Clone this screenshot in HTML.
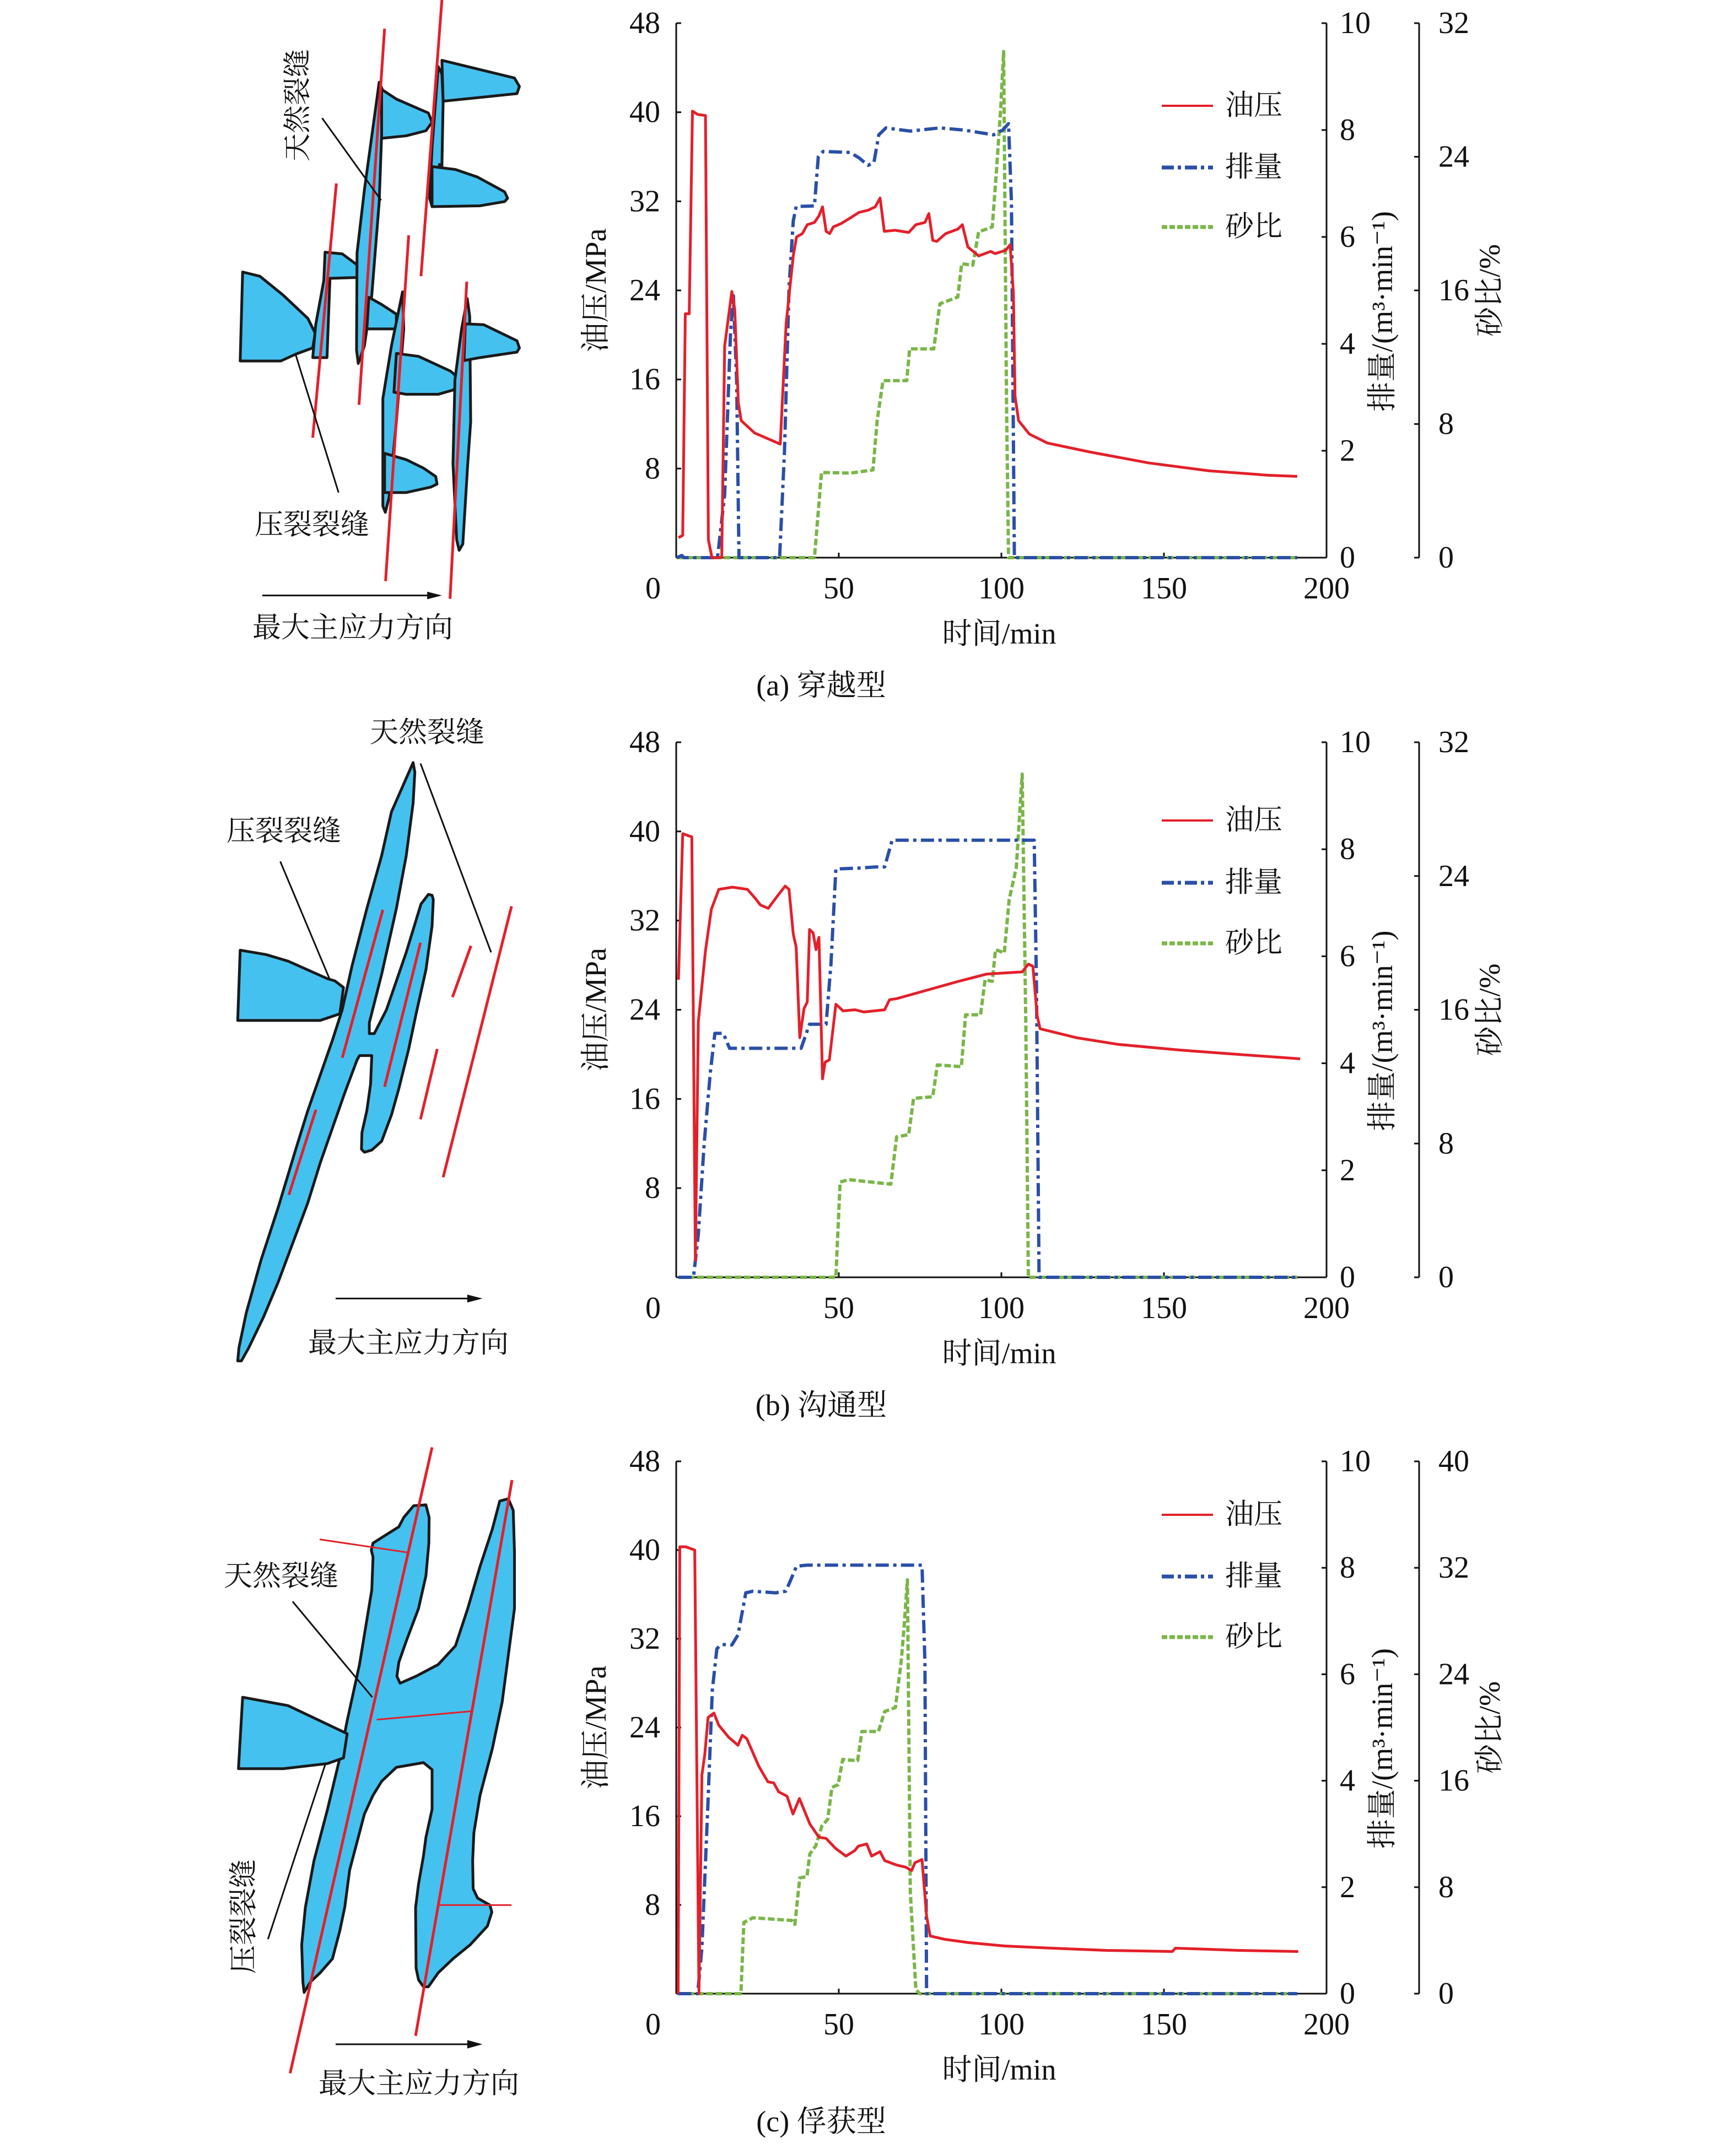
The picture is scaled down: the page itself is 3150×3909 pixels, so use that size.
<!DOCTYPE html>
<html><head><meta charset="utf-8">
<style>
html,body{margin:0;padding:0;background:#fff;}
svg{display:block;}
text{font-family:"Liberation Serif","Noto Serif CJK SC",serif;fill:#111;}
</style></head>
<body>
<svg id="fig" xmlns="http://www.w3.org/2000/svg" width="3150" height="3909" viewBox="0 0 3150 3909">
<rect width="3150" height="3909" fill="#fff"/>

<!-- Diagram A -->
<g>
<g transform="translate(380,0) scale(0.4464,0.7653)" fill="#45c1f0" stroke="#1a1a1a" stroke-width="5" stroke-linejoin="round">
<path vector-effect="non-scaling-stroke" d="M135,645 L205,655 L300,700 L400,755 L430,790 L420,825 L350,840 L290,856 L125,856 Z"/>
<path vector-effect="non-scaling-stroke" d="M470,598 L540,602 L600,628 L600,658 L490,660 L478,848 L420,848 L432,770 L465,665 Z"/>
<path vector-effect="non-scaling-stroke" d="M690,195 L705,215 L700,320 L690,480 L660,700 L630,820 L605,862 L598,830 L600,600 L630,450 Z"/>
<path vector-effect="non-scaling-stroke" d="M700,212 L760,235 L890,268 L905,290 L880,310 L800,322 L700,328 Z"/>
<path vector-effect="non-scaling-stroke" d="M648,705 L700,722 L760,745 L760,780 L640,780 Z"/>
<path vector-effect="non-scaling-stroke" d="M930,158 L945,175 L950,240 L945,395 L935,390 L905,490 L895,470 L905,350 Z"/>
<path vector-effect="non-scaling-stroke" d="M945,143 L1240,185 L1260,205 L1250,222 L1200,225 L950,240 Z"/>
<path vector-effect="non-scaling-stroke" d="M905,395 L1000,402 L1090,420 L1200,455 L1212,470 L1200,478 L1100,488 L905,490 Z"/>
<path vector-effect="non-scaling-stroke" d="M785,692 L790,780 L760,1000 L730,1180 L715,1215 L705,1200 L705,945 L740,820 Z"/>
<path vector-effect="non-scaling-stroke" d="M760,838 L850,845 L980,880 L1010,895 L1010,915 L990,925 L930,935 L800,935 L750,930 Z"/>
<path vector-effect="non-scaling-stroke" d="M712,1075 L800,1090 L870,1110 L920,1130 L925,1148 L900,1155 L800,1168 L712,1168 Z"/>
<path vector-effect="non-scaling-stroke" d="M1048,708 L1058,750 L1062,1000 L1050,1100 L1030,1290 L1015,1305 L1005,1280 L990,1100 L998,900 L1025,780 Z"/>
<path vector-effect="non-scaling-stroke" d="M1040,768 L1115,770 L1250,808 L1260,825 L1250,835 L1100,848 L1035,855 Z"/>
<g stroke="#e3202a" stroke-width="5" fill="none">
<line vector-effect="non-scaling-stroke" x1="712" y1="68" x2="608" y2="960"/>
<line vector-effect="non-scaling-stroke" x1="945" y1="0" x2="860" y2="655"/>
<line vector-effect="non-scaling-stroke" x1="516" y1="435" x2="420" y2="1038"/>
<line vector-effect="non-scaling-stroke" x1="810" y1="558" x2="716" y2="1378"/>
<line vector-effect="non-scaling-stroke" x1="1046" y1="668" x2="978" y2="1420"/>
</g>
<g stroke="#111" stroke-width="3" fill="none">
<line vector-effect="non-scaling-stroke" x1="458" y1="280" x2="698" y2="475"/>
<line vector-effect="non-scaling-stroke" x1="350" y1="840" x2="525" y2="1168"/>
<line vector-effect="non-scaling-stroke" x1="215" y1="1412" x2="900" y2="1412"/>
</g>
<path vector-effect="non-scaling-stroke" d="M885,1403 L945,1412 L885,1421 Z" fill="#111" stroke="none"/>
</g>
<text x="0" y="0" font-size="51" text-anchor="middle" dominant-baseline="central" transform="translate(541,191) rotate(-90)">天然裂缝</text>
<text x="566" y="953" font-size="52" text-anchor="middle" dominant-baseline="central">压裂裂缝</text>
<text x="640" y="1140" font-size="52" text-anchor="middle" dominant-baseline="central">最大主应力方向</text>
</g>

<!-- Diagram B -->
<g>
<g transform="translate(380,1250) scale(0.4464,0.7972)" fill="#45c1f0" stroke="#1a1a1a" stroke-width="5" stroke-linejoin="round">
<path vector-effect="non-scaling-stroke" d="M828,168 L835,190 L828,260 L800,380 L760,500 L700,650 L650,760 L650,785 L670,785 L720,730 L800,600 L860,490 L890,468 L905,470 L910,480 L905,540 L880,640 L840,740 L810,820 L770,910 L740,970 L700,1030 L660,1050 L630,1055 L618,1048 L620,1010 L640,960 L655,900 L660,835 L610,835 L600,845 L550,920 L500,1000 L450,1080 L400,1170 L340,1260 L280,1350 L220,1430 L160,1500 L130,1530 L115,1530 L120,1500 L150,1420 L210,1300 L280,1180 L350,1050 L400,960 L450,880 L500,800 L540,730 L580,630 L640,500 L700,380 L740,280 Z"/>
<path vector-effect="non-scaling-stroke" d="M125,595 L230,605 L320,620 L480,660 L510,665 L545,680 L530,740 L450,755 L115,755 Z"/>
<g stroke="#e3202a" stroke-width="5" fill="none">
<line vector-effect="non-scaling-stroke" x1="705" y1="503" x2="540" y2="840"/>
<line vector-effect="non-scaling-stroke" x1="858" y1="578" x2="712" y2="906"/>
<line vector-effect="non-scaling-stroke" x1="433" y1="958" x2="323" y2="1152"/>
<line vector-effect="non-scaling-stroke" x1="1063" y1="585" x2="988" y2="702"/>
<line vector-effect="non-scaling-stroke" x1="926" y1="820" x2="858" y2="980"/>
<line vector-effect="non-scaling-stroke" x1="1228" y1="495" x2="950" y2="1112"/>
</g>
<g stroke="#111" stroke-width="3" fill="none">
<line vector-effect="non-scaling-stroke" x1="858" y1="170" x2="1145" y2="600"/>
<line vector-effect="non-scaling-stroke" x1="288" y1="393" x2="488" y2="660"/>
<line vector-effect="non-scaling-stroke" x1="513" y1="1388" x2="1060" y2="1388"/>
</g>
<path vector-effect="non-scaling-stroke" d="M1048,1379 L1110,1388 L1048,1397 Z" fill="#111" stroke="none"/>
</g>
<text x="775" y="1330" font-size="52" text-anchor="middle" dominant-baseline="central">天然裂缝</text>
<text x="515" y="1509" font-size="52" text-anchor="middle" dominant-baseline="central">压裂裂缝</text>
<text x="741" y="2438" font-size="52" text-anchor="middle" dominant-baseline="central">最大主应力方向</text>
</g>

<!-- Diagram C -->
<g>
<g transform="translate(380,2580) scale(0.4464,0.8476)" fill="#45c1f0" stroke="#1a1a1a" stroke-width="5" stroke-linejoin="round">
<path vector-effect="non-scaling-stroke" d="M665,260 L710,245 L770,225 L790,205 L830,180 L880,178 L893,205 L892,260 L880,330 L850,400 L800,470 L770,515 L762,545 L775,560 L840,545 L930,520 L1000,480 L1050,400 L1100,310 L1150,230 L1180,170 L1215,165 L1235,190 L1240,280 L1240,400 L1220,480 L1190,600 L1150,700 L1100,800 L1075,880 L1070,940 L1072,1000 L1090,1020 L1140,1035 L1148,1050 L1130,1080 L1060,1120 L990,1150 L930,1180 L890,1210 L870,1210 L850,1195 L840,1170 L838,1040 L850,990 L870,930 L880,890 L905,830 L905,745 L870,730 L760,740 L700,770 L665,800 L630,840 L600,900 L570,960 L550,1040 L530,1090 L500,1150 L450,1180 L410,1200 L385,1222 L380,1200 L375,1120 L390,1040 L425,940 L480,830 L530,720 L560,640 L610,520 L660,360 L665,290 L658,275 Z"/>
<path vector-effect="non-scaling-stroke" d="M135,590 L320,608 L560,668 L545,720 L480,732 L300,743 L118,743 Z"/>
<g stroke="#e3202a" stroke-width="5" fill="none">
<line vector-effect="non-scaling-stroke" x1="905" y1="55" x2="328" y2="1395"/>
<line vector-effect="non-scaling-stroke" x1="1230" y1="125" x2="838" y2="1315"/>
<line vector-effect="non-scaling-stroke" stroke-width="3" x1="448" y1="252" x2="805" y2="280"/>
<line vector-effect="non-scaling-stroke" stroke-width="3" x1="680" y1="638" x2="1065" y2="620"/>
<line vector-effect="non-scaling-stroke" stroke-width="3" x1="930" y1="1035" x2="1228" y2="1035"/>
</g>
<g stroke="#111" stroke-width="3" fill="none">
<line vector-effect="non-scaling-stroke" x1="338" y1="385" x2="662" y2="590"/>
<line vector-effect="non-scaling-stroke" x1="472" y1="732" x2="238" y2="1108"/>
<line vector-effect="non-scaling-stroke" x1="513" y1="1333" x2="1060" y2="1333"/>
</g>
<path vector-effect="non-scaling-stroke" d="M1048,1324 L1110,1333 L1048,1342 Z" fill="#111" stroke="none"/>
</g>
<text x="510" y="2861" font-size="52" text-anchor="middle" dominant-baseline="central">天然裂缝</text>
<text x="0" y="0" font-size="52" text-anchor="middle" dominant-baseline="central" transform="translate(443,3478) rotate(-90)">压裂裂缝</text>
<text x="760" y="3782" font-size="52" text-anchor="middle" dominant-baseline="central">最大主应力方向</text>
</g>

<g id="charts"></g>
</svg>
<script>
// ---- Chart A data ----
const aOilT = [0.7,2.0,2.8,4.0,5.0,6.6,9.0,9.9,11.0,14.0,14.9,17.1,18.0,19.1,20.0,24.1,32.0,33.8,36.0,37.0,38.8,40.3,42.5,43.9,45.0,46.1,47.2,48.3,50.7,53.5,56.2,59.0,61.2,62.7,64.0,67.3,71.5,73.7,76.5,77.7,78.9,80.1,82.9,86.6,88.0,89.7,93.0,96.7,98.1,101.3,102.7,103.7,104.2,105.3,108.6,114.1,127,145.4,163.8,182.1,191.0];
const aOilP = [1.8,2.0,21.9,21.9,40.1,39.8,39.7,1.6,0,0,19.0,23.9,22.3,13.9,12.3,11.2,10.2,21.0,27.1,28.8,29.1,29.9,30.1,30.7,31.5,29.3,29.1,29.7,30.0,30.5,31.0,31.2,31.5,32.3,29.3,29.4,29.2,29.9,30.1,30.9,28.5,28.4,29.1,29.5,29.9,27.9,27.1,27.5,27.3,27.6,28.1,23.8,14.5,12.3,11.1,10.3,9.5,8.5,7.8,7.4,7.3];
const aFlowT = [0.2,1.7,2.4,12.7,14.9,16.7,17.6,18.6,19.3,31.8,33.3,34.7,36.0,36.9,42.5,43.7,45.2,53.5,56.2,59.0,60.8,62.3,64.5,71.9,81.1,88.4,97.6,100.4,102.2,103.1,104.0,191];
const aFlowQ = [0,0.04,0,0,1.18,4.2,4.9,3.3,0,0,2.0,5.05,6.3,6.57,6.58,7.5,7.6,7.58,7.48,7.34,7.39,7.91,8.04,7.98,8.04,8.0,7.91,8.0,8.12,6.65,0,0];
const aSandT = [0.2,42.5,44.7,53.5,60.5,61.8,63.6,70.9,71.8,79.2,81.1,86.6,87.8,91.2,93.0,97.2,98.5,99.8,100.7,101.6,102.2,191];
const aSandS = [0,0,5.1,5.06,5.25,8.2,10.6,10.6,12.5,12.5,15.2,15.6,17.6,17.5,19.5,19.8,23.2,26.9,30.3,9.2,0,0];
// ---- Chart B data ----
const bOilT = [0.7,2.0,4.8,5.9,6.8,9.0,10.8,13.1,17.3,21.9,24.3,25.9,28.3,31.1,33.5,34.7,36.0,36.9,38.0,39.3,40.3,41.0,42.1,43.0,43.9,45.0,45.8,47.1,49.1,51.3,55.0,57.7,64.1,65.6,67.8,75.2,86.2,95.4,106.4,108.3,109.7,111.0,111.9,123,135.8,154.2,172.6,191.9];
const bOilP = [26.7,39.8,39.5,1.5,22.9,29.3,33.0,34.8,35.0,34.8,34.0,33.4,33.1,34.2,35.1,34.8,30.8,29.6,21.5,24.1,24.7,31.2,30.9,29.4,30.5,17.8,19.3,19.5,24.5,23.9,24.0,23.8,24.0,24.9,25.0,25.6,26.5,27.2,27.4,28.1,27.9,23.5,22.3,21.5,20.9,20.4,20.0,19.6];
const bFlowT = [0.7,5.3,6.8,8.6,10.5,11.9,14.5,16.4,38.4,41.0,46.1,47.6,49.1,56.8,61.4,64.1,66.4,110.1,110.8,111.6,191];
const bFlowQ = [0,0,0.8,2.5,3.84,4.56,4.56,4.28,4.28,4.73,4.73,5.86,7.63,7.65,7.67,7.67,8.17,8.17,5.44,0,0];
const bSandT = [0.7,49.1,50.4,53.1,66.0,67.8,71.5,73.0,78.9,80.3,87.7,89.0,93.6,95.0,97.2,98.2,100.9,102.4,104.6,106.4,107.5,108.3,191];
const bSandS = [0,0,5.7,5.84,5.57,8.4,8.53,10.7,10.8,12.7,12.6,15.7,15.7,17.8,17.7,19.6,19.4,22.6,24.5,30.1,15.3,0,0];
// ---- Chart C data ----
const cOilT = [0.6,1.1,2.9,5.7,7.0,7.9,8.8,9.8,11.6,13.1,16.2,19.0,20.3,21.7,25.4,28.2,30.0,31.5,34.1,35.9,37.9,41.1,43.9,46.1,49.0,52.2,54.9,56.0,58.6,60.1,62.7,64.1,67.8,70.6,72.4,73.4,75.6,77.0,78.1,82.6,89.9,101.0,115.7,132.3,152.6,153.5,163.7,172.9,191.3];
const cOilP = [0,40.3,40.3,40.0,0,19.7,21.6,24.9,25.3,24.2,23.1,22.4,23.3,23.0,20.5,19.1,19.0,18.2,17.8,16.2,17.6,15.3,14.1,14.0,13.1,12.4,12.9,13.3,13.5,12.4,12.8,12.0,11.6,11.4,11.1,11.8,12.1,7.0,5.2,4.9,4.6,4.3,4.1,3.9,3.8,4.1,4.0,3.9,3.8];
const cFlowT = [0.6,6.6,7.9,9.8,11.1,12.5,13.9,17.1,19.0,21.4,23.6,30.6,33.7,35.2,37.0,40.2,75.6,76.5,77.0,191];
const cFlowQ = [0,0,0.86,3.63,5.7,6.48,6.56,6.55,6.74,7.53,7.56,7.53,7.56,7.77,8.03,8.05,8.05,6.22,0,0];
const cSandT = [0.6,19.9,20.8,23.6,35.6,36.5,38.0,40.2,41.1,42.9,44.8,46.6,47.9,49.8,51.2,55.8,57.1,62.2,64.1,67.4,69.2,70.1,71.1,72.0,73.7,74.8,191];
const cSandS = [0,0,5.35,5.7,5.5,5.2,8.7,8.8,10.5,11.1,12.6,13.1,15.5,15.7,17.6,17.5,19.7,19.7,21.2,21.5,25.0,27.6,31.1,7.6,0.35,0,0];
// ---- Ticks ----
const xTicks = [0,50,100,150,200];
const oilTicks = [8,16,24,32,40,48];
const flowTicks = [0,2,4,6,8,10];
const sandTicksAB = [0,8,16,24,32];
const sandTicksC = [0,8,16,24,32,40];

const NS = 'http://www.w3.org/2000/svg';
const root = document.getElementById('charts');
function mk(tag, attrs, parent, txt){
  const e = document.createElementNS(NS, tag);
  for (const k in attrs) e.setAttribute(k, attrs[k]);
  if (txt !== undefined) e.textContent = txt;
  parent.appendChild(e);
  return e;
}
function drawChart(id, top, bot, caption, oilT, oilP, flowT, flowQ, sandT, sandS, sandTicks, sandMax, legY){
  const L = 1227, R = 2407, S = 2575;
  const xs = t => L + t * (R - L) / 200;
  const yOil = v => bot - v * (bot - top) / 48;
  const yFlow = v => bot - v * (bot - top) / 10;
  const ySand = v => bot - v * (bot - top) / sandMax;
  const g = mk('g', {}, root);
  
  
  const ax = mk('g', {stroke:'#111','stroke-width':3,fill:'none'}, g);
  
  
  mk('line', {x1:L,y1:top,x2:L,y2:bot}, ax);
  mk('line', {x1:L,y1:bot,x2:R,y2:bot}, ax);
  mk('line', {x1:R,y1:top,x2:R,y2:bot}, ax);
  mk('line', {x1:S,y1:top,x2:S,y2:bot}, ax);
  oilTicks.forEach(v => {
    mk('line', {x1:L,y1:yOil(v),x2:L+9,y2:yOil(v)}, ax);
    const t = mk('text', {x:1198,y:yOil(v),'font-size':56,'text-anchor':'end','dominant-baseline':'central',stroke:'none',fill:'#111'}, g, String(v));
    
    
  });
  flowTicks.forEach(v => {
    mk('line', {x1:R-9,y1:yFlow(v),x2:R,y2:yFlow(v)}, ax);
    const t = mk('text', {x:2431,y:yFlow(v),'font-size':56,'dominant-baseline':'central',fill:'#111'}, g, String(v));
    
    
  });
  sandTicks.forEach(v => {
    mk('line', {x1:S-9,y1:ySand(v),x2:S,y2:ySand(v)}, ax);
    const t = mk('text', {x:2610,y:ySand(v),'font-size':56,'dominant-baseline':'central',fill:'#111'}, g, String(v));
    
    
  });
  xTicks.forEach(v => {
    if (v > 0 && v < 200) mk('line', {x1:xs(v),y1:bot,x2:xs(v),y2:bot-9}, ax);
    const xx = v === 0 ? 1185 : xs(v);
    const t = mk('text', {x:xx,y:bot+56,'font-size':56,'text-anchor':'middle','dominant-baseline':'central',fill:'#111'}, g, String(v));
    
    
  });
  const mid = (top + bot) / 2;
  let t;
  t = mk('text', {transform:`translate(1081,${mid}) rotate(-90)`,'font-size':54,'text-anchor':'middle','dominant-baseline':'central'}, g, '油压/MPa');
  
  
  t = mk('text', {transform:`translate(2508,${mid+38}) rotate(-90)`,'font-size':54,'text-anchor':'middle','dominant-baseline':'central'}, g, '排量/(m³·min⁻¹)');
  
  
  t = mk('text', {transform:`translate(2703,${mid}) rotate(-90)`,'font-size':54,'text-anchor':'middle','dominant-baseline':'central'}, g, '砂比/%');
  
  
  t = mk('text', {x:1813,y:bot+138,'font-size':54,'text-anchor':'middle','dominant-baseline':'central'}, g, '时间/min');
  
  
  t = mk('text', {x:1490,y:bot+232,'font-size':54,'text-anchor':'middle','dominant-baseline':'central'}, g, caption);
  
  

  const pts = (T, V, f) => T.map((x, i) => xs(x).toFixed(1) + ',' + f(V[i]).toFixed(1)).join(' ');
  let p;
  p = mk('polyline', {points:pts(sandT, sandS, ySand), fill:'none', stroke:'#7ab648','stroke-width':6,'stroke-dasharray':'12,5','stroke-linejoin':'round'}, g);
  
  
  p = mk('polyline', {points:pts(flowT, flowQ, yFlow), fill:'none', stroke:'#2a4fa8','stroke-width':6,'stroke-dasharray':'24,8,6,8','stroke-linejoin':'round'}, g);
  
  
  p = mk('polyline', {points:pts(oilT, oilP, yOil), fill:'none', stroke:'#e3202a','stroke-width':5,'stroke-linejoin':'round'}, g);
  
  

  const lg = mk('g', {}, g);
  
  
  const entries = [['油压','#e3202a',4,'none'],['排量','#2a4fa8',7,'22,7,6,7'],['砂比','#7ab648',7,'10,4']];
  entries.forEach((e, i) => {
    const y = legY[i];
    mk('line', {x1:2108,y1:y,x2:2201,y2:y,stroke:e[1],'stroke-width':e[2],'stroke-dasharray':e[3]}, lg);
    const tt = mk('text', {x:2223,y:y,'font-size':52,'dominant-baseline':'central'}, lg, e[0]);
    
    
  });
}
drawChart('a', 42, 1012, '(a) 穿越型', aOilT, aOilP, aFlowT, aFlowQ, aSandT, aSandS, sandTicksAB, 32, [192,304,412]);
drawChart('b', 1347, 2318, '(b) 沟通型', bOilT, bOilP, bFlowT, bFlowQ, bSandT, bSandS, sandTicksAB, 32, [1489,1602,1712]);
drawChart('c', 2652, 3618, '(c) 俘获型', cOilT, cOilP, cFlowT, cFlowQ, cSandT, cSandS, sandTicksC, 40, [2749,2861,2971]);
</script>
</body></html>
